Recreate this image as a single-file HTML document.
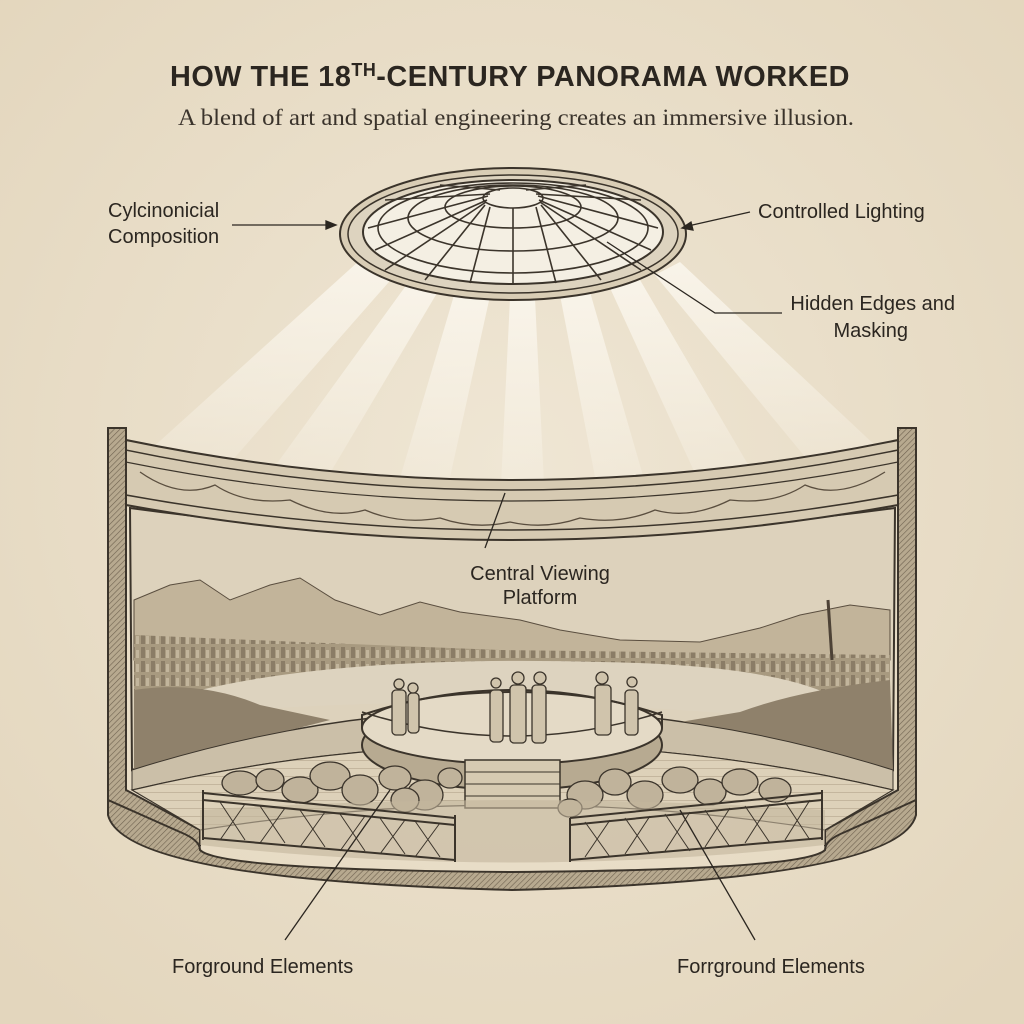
<!DOCTYPE html>
<html><head><meta charset="utf-8"><style>
html,body{margin:0;padding:0;background:#ece2cf;}
svg{display:block}
.t{font-family:"Liberation Sans Narrow","Liberation Sans",sans-serif;fill:#2b2620;}
</style></head><body>
<svg width="1024" height="1024" viewBox="0 0 1024 1024" xmlns="http://www.w3.org/2000/svg">
<defs>
<radialGradient id="bg" cx="50%" cy="45%" r="70%"><stop offset="0" stop-color="#efe6d4"/><stop offset="1" stop-color="#e3d6bd"/></radialGradient>
<linearGradient id="ray" x1="0" y1="0" x2="0" y2="1"><stop offset="0" stop-color="#fbf7ee" stop-opacity="0.85"/><stop offset="1" stop-color="#fbf7ee" stop-opacity="0.15"/></linearGradient>
<pattern id="hatch" width="4" height="4" patternUnits="userSpaceOnUse" patternTransform="rotate(45)"><rect width="4" height="4" fill="#b7a98f"/><line x1="0" y1="0" x2="0" y2="4" stroke="#6f6250" stroke-width="1.2"/></pattern>
<pattern id="planks" width="8" height="8" patternUnits="userSpaceOnUse"><rect width="8" height="8" fill="#ddd1b9"/><line x1="0" y1="0" x2="8" y2="0" stroke="#9d8f76" stroke-width="0.8"/></pattern>
<pattern id="city" width="10" height="14" patternUnits="userSpaceOnUse"><rect width="10" height="14" fill="#a89a80"/><rect x="1" y="3" width="4" height="11" fill="#8a7c66"/><rect x="6" y="6" width="3" height="8" fill="#c2b59c"/></pattern>
</defs>
<rect width="1024" height="1024" fill="url(#bg)"/>

<text x="510" y="86" text-anchor="middle" font-size="29" font-weight="bold" fill="#2b2620" style="font-family:'Liberation Sans',sans-serif;letter-spacing:0.5px" textLength="680" lengthAdjust="spacingAndGlyphs">HOW THE 18<tspan font-size="18" dy="-10">TH</tspan><tspan dy="10">-CENTURY PANORAMA WORKED</tspan></text>
<text x="516" y="125" text-anchor="middle" font-size="23" fill="#3a332b" font-family="Liberation Serif, serif" textLength="676" lengthAdjust="spacingAndGlyphs">A blend of art and spatial engineering creates an immersive illusion.</text>

<!-- rays -->
<g fill="url(#ray)">
<polygon points="360,260 395,275 215,480 150,450"/>
<polygon points="410,280 440,288 320,490 265,480"/>
<polygon points="455,292 490,296 445,500 395,495"/>
<polygon points="510,298 535,298 545,505 500,505"/>
<polygon points="560,295 590,292 650,500 600,503"/>
<polygon points="610,288 640,280 760,485 705,495"/>
<polygon points="655,275 680,262 880,450 820,475"/>
</g>

<!-- skylight -->
<ellipse cx="513" cy="234" rx="173" ry="66" fill="#d9cdb5" stroke="#3b342b" stroke-width="2"/>
<ellipse cx="513" cy="234" rx="165" ry="59" fill="#ddd3bf" stroke="#3b342b" stroke-width="1.5"/>
<ellipse cx="513" cy="232" rx="150" ry="52" fill="#f4efe3" stroke="#3b342b" stroke-width="2"/>
<g stroke="#3b342b" stroke-width="1.6" fill="none">
<ellipse cx="513" cy="198" rx="30" ry="10"/>
<ellipse cx="513" cy="207" rx="68" ry="21"/>
<ellipse cx="513" cy="218" rx="105" ry="33"/>
<ellipse cx="513" cy="228" rx="135" ry="45"/>
<line x1="513" y1="208" x2="513" y2="284"/>
<line x1="490" y1="207" x2="470" y2="283"/><line x1="536" y1="207" x2="556" y2="283"/>
<line x1="485" y1="205" x2="425" y2="280"/><line x1="541" y1="205" x2="601" y2="280"/>
<line x1="486" y1="202" x2="385" y2="270"/><line x1="540" y1="202" x2="641" y2="270"/>
<line x1="487" y1="200" x2="375" y2="250"/><line x1="539" y1="200" x2="651" y2="250"/>
<line x1="488" y1="196" x2="368" y2="228"/><line x1="538" y1="196" x2="658" y2="228"/>
<line x1="490" y1="194" x2="385" y2="200"/><line x1="536" y1="194" x2="641" y2="200"/>
<line x1="500" y1="190" x2="440" y2="185"/><line x1="526" y1="190" x2="586" y2="185"/>
</g>

<!-- walls -->
<path d="M108,428 L126,428 L126,790 L200,830 L200,845 L108,800 Z" fill="url(#hatch)" stroke="#3b342b" stroke-width="2"/>
<path d="M898,428 L916,428 L916,800 L825,845 L825,830 L898,790 Z" fill="url(#hatch)" stroke="#3b342b" stroke-width="2"/>
<path d="M108,800 L180,832 Q200,840 200,850 Q220,870 512,872 Q805,870 825,850 Q825,840 845,832 L916,800 L916,815 Q900,880 512,890 Q124,880 108,815 Z" fill="url(#hatch)" stroke="#3b342b" stroke-width="2"/>

<!-- painting area -->
<path d="M130,508 Q512,560 895,508 L893,770 Q512,650 132,770 Z" fill="#ddd2bc" stroke="#3b342b" stroke-width="2"/>
<path d="M134,600 L170,585 L200,580 L230,600 L270,585 L300,578 L335,600 L380,615 L420,602 L460,612 L520,620 L560,630 L620,640 L700,642 L760,628 L800,615 L850,605 L890,610 L890,660 L134,660 Z" fill="#c2b49a" stroke="#5a4e3f" stroke-width="1"/>
<path d="M134,635 L300,642 L500,650 L890,655 L890,690 L134,700 Z" fill="url(#city)"/>
<path d="M200,690 Q350,655 600,662 Q780,665 840,700 L800,720 Q500,690 220,712 Z" fill="#ddd3bf"/>
<path d="M134,690 Q200,680 260,705 L330,720 L134,770 Z" fill="#8f816b"/>
<path d="M890,680 Q800,690 740,712 L680,722 L893,770 Z" fill="#8f816b"/>
<line x1="828" y1="600" x2="832" y2="660" stroke="#4d4236" stroke-width="3"/>

<!-- floor -->
<path d="M132,770 Q512,650 893,770 L893,790 Q512,700 132,790 Z" fill="#cbbfa8" stroke="#3b342b" stroke-width="1"/>
<path d="M132,790 Q512,700 893,790 L825,830 Q512,780 200,830 Z" fill="url(#planks)" stroke="#3b342b" stroke-width="1.2"/>

<!-- cornice -->
<path d="M126,440 Q512,520 898,440 L898,505 Q512,575 126,505 Z" fill="#d6cab2" stroke="#3b342b" stroke-width="2"/>
<path d="M126,450 Q512,530 898,450" fill="none" stroke="#3b342b" stroke-width="1.5"/>
<path d="M126,462 Q512,540 898,462" fill="none" stroke="#3b342b" stroke-width="1.2"/>
<path d="M126,495 Q512,565 898,495" fill="none" stroke="#3b342b" stroke-width="1.5"/>
<g fill="none" stroke="#5a4e3f" stroke-width="1.3">
<path d="M140,472 Q180,500 215,485 Q245,505 290,500 Q330,520 365,510 Q400,525 440,518 Q475,530 510,522 Q545,530 580,518 Q620,525 655,510 Q690,520 730,500 Q775,505 805,485 Q840,500 885,472"/>
</g>

<!-- platform -->
<ellipse cx="512" cy="745" rx="150" ry="45" fill="#b7aa91" stroke="#3b342b" stroke-width="2"/>
<ellipse cx="512" cy="728" rx="150" ry="36" fill="#e4dac6" stroke="#3b342b" stroke-width="2"/>
<path d="M362,728 L362,715 Q512,665 662,715 L662,728" fill="none" stroke="#3b342b" stroke-width="2"/>
<path d="M362,712 Q512,760 662,712" fill="none" stroke="#3b342b" stroke-width="1.5"/>
<path d="M465,760 L560,760 L560,808 L465,808 Z" fill="#d6cab2" stroke="#3b342b" stroke-width="1.5"/>
<g stroke="#3b342b" stroke-width="1"><line x1="465" y1="772" x2="560" y2="772"/><line x1="465" y1="784" x2="560" y2="784"/><line x1="465" y1="796" x2="560" y2="796"/></g>
<g fill="#d0c4ac" stroke="#3b342b" stroke-width="1.3">
<rect x="392" y="690" width="14" height="45" rx="4"/><circle cx="399" cy="684" r="5"/>
<rect x="408" y="693" width="11" height="40" rx="4"/><circle cx="413" cy="688" r="5"/>
<rect x="490" y="690" width="13" height="52" rx="4"/><circle cx="496" cy="683" r="5"/>
<rect x="510" y="685" width="16" height="58" rx="4"/><circle cx="518" cy="678" r="6"/>
<rect x="532" y="685" width="14" height="58" rx="4"/><circle cx="540" cy="678" r="6"/>
<rect x="595" y="685" width="16" height="50" rx="4"/><circle cx="602" cy="678" r="6"/>
<rect x="625" y="690" width="13" height="45" rx="4"/><circle cx="632" cy="682" r="5"/>
</g>

<!-- rocks -->
<g fill="#c0b39b" stroke="#3b342b" stroke-width="1.3">
<ellipse cx="240" cy="783" rx="18" ry="12"/><ellipse cx="270" cy="780" rx="14" ry="11"/><ellipse cx="300" cy="790" rx="18" ry="13"/>
<ellipse cx="330" cy="776" rx="20" ry="14"/><ellipse cx="360" cy="790" rx="18" ry="15"/><ellipse cx="395" cy="778" rx="16" ry="12"/>
<ellipse cx="425" cy="795" rx="18" ry="15"/><ellipse cx="405" cy="800" rx="14" ry="12"/><ellipse cx="450" cy="778" rx="12" ry="10"/>
<ellipse cx="585" cy="795" rx="18" ry="14"/><ellipse cx="615" cy="782" rx="16" ry="13"/><ellipse cx="645" cy="795" rx="18" ry="14"/>
<ellipse cx="680" cy="780" rx="18" ry="13"/><ellipse cx="710" cy="792" rx="16" ry="13"/><ellipse cx="740" cy="782" rx="18" ry="13"/>
<ellipse cx="775" cy="790" rx="16" ry="12"/><ellipse cx="570" cy="808" rx="12" ry="9"/>
</g>
<path d="M200,810 Q512,790 825,810 L825,845 Q512,880 200,845 Z" fill="#c3b69c" opacity="0.6"/>
<g fill="none" stroke="#3b342b" stroke-width="2">
<path d="M203,790 L203,840 M455,815 L455,862"/>
<path d="M203,793 L455,818 M203,800 L455,825 M203,838 L455,860"/>
<path d="M570,818 L570,862 M822,790 L822,840"/>
<path d="M570,818 L822,793 M570,825 L822,800 M570,860 L822,838"/>
</g>
<g stroke="#3b342b" stroke-width="1">
<path d="M220,802 L245,840 M245,804 L220,840 M260,806 L285,843 M285,808 L260,843 M300,810 L325,847 M325,812 L300,847 M340,814 L365,851 M365,816 L340,851 M380,818 L405,854 M405,820 L380,854 M415,821 L440,857 M440,823 L415,857"/>
<path d="M585,822 L610,857 M610,820 L585,857 M625,818 L650,854 M650,816 L625,854 M665,814 L690,851 M690,812 L665,851 M705,810 L730,847 M730,808 L705,847 M745,806 L770,843 M770,804 L745,843 M785,802 L810,840 M810,800 L785,840"/>
</g>

<g class="t" font-size="20">
<text x="108" y="217">Cylcinonicial</text>
<text x="108" y="243">Composition</text>
<text x="758" y="218">Controlled Lighting</text>
<text x="955" y="310" text-anchor="end">Hidden Edges and</text>
<text x="908" y="337" text-anchor="end">Masking</text>
<text x="540" y="580" text-anchor="middle">Central Viewing</text>
<text x="540" y="604" text-anchor="middle">Platform</text>
<text x="172" y="973">Forground Elements</text>
<text x="677" y="973">Forrground Elements</text>
</g>
<g stroke="#2b2620" stroke-width="1.3" fill="#2b2620">
<line x1="232" y1="225" x2="330" y2="225"/><polygon points="336,225 326,221 326,229"/>
<line x1="750" y1="212" x2="688" y2="226"/><polygon points="682,228 691,222 693,230"/>
<polyline points="782,313 715,313 607,242" fill="none"/>
<line x1="485" y1="548" x2="505" y2="493"/>
<line x1="285" y1="940" x2="390" y2="790"/>
<line x1="755" y1="940" x2="680" y2="810"/>
</g>
</svg>
</body></html>
